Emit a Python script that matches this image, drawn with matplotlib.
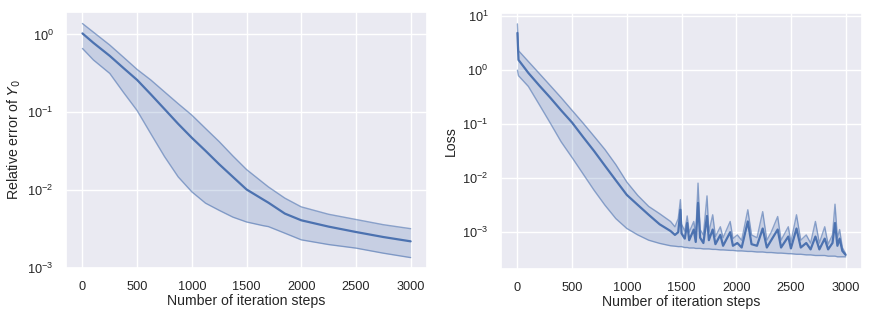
import numpy as np
import seaborn as sns
from matplotlib import pyplot as plt

# Relative error of Y_0 (left panel)
err_steps = [0, 100, 250, 375, 500, 625, 750, 875, 1000, 1125, 1250, 1375, 1500,
             1650, 1700, 1850, 2000, 2250, 2500, 2750, 3000]
err_mean = [1.03, 0.78, 0.53, 0.37, 0.26, 0.17, 0.11, 0.071, 0.047, 0.032, 0.0215, 0.0148, 0.0102,
            0.0076, 0.0069, 0.0050, 0.0041, 0.0034, 0.0029, 0.0025, 0.0022]
err_upper = [1.38, 1.07, 0.73, 0.51, 0.355, 0.26, 0.183, 0.129, 0.092, 0.062, 0.042, 0.0275, 0.0184,
             0.0125, 0.011, 0.0079, 0.0061, 0.0049, 0.0042, 0.0036, 0.0032]
err_lower = [0.66, 0.47, 0.315, 0.18, 0.105, 0.053, 0.027, 0.0148, 0.0095, 0.0068, 0.0055, 0.0045, 0.0039,
             0.0035, 0.0034, 0.0028, 0.0023, 0.0020, 0.0018, 0.00155, 0.00136]

# Loss (right panel)
loss_steps = [0, 10, 100, 200, 300, 400, 500, 600, 700, 800, 900, 1000, 1100, 1200, 1300, 1400,
              1440, 1470, 1490, 1500, 1530, 1552, 1570, 1612, 1630, 1651, 1670, 1700, 1733, 1750,
              1785, 1810, 1855, 1880, 1945, 1970, 2010, 2050, 2106, 2140, 2190, 2242, 2280, 2320,
              2379, 2410, 2476, 2500, 2551, 2590, 2640, 2680, 2724, 2760, 2809, 2840, 2880, 2903,
              2925, 2945, 2970, 3000]
loss_mean = [4.9, 1.55, 0.89, 0.52, 0.31, 0.18, 0.107, 0.058, 0.032, 0.017, 0.0091, 0.0049, 0.0032, 0.0021, 0.0014, 0.00105,
             8.9e-4, 1.0e-3, 2.6e-3, 9.5e-4, 7.6e-4, 1.48e-3, 7.1e-4, 1.12e-3, 6.6e-4, 3.5e-3, 7.9e-4, 6.3e-4, 2.0e-3, 7.1e-4,
             1.12e-3, 6.0e-4, 8.9e-4, 5.6e-4, 1.0e-3, 5.6e-4, 6.3e-4, 5.2e-4, 1.58e-3, 6.0e-4, 5.6e-4, 1.17e-3, 5.2e-4, 7.1e-4,
             1.12e-3, 5.2e-4, 8.3e-4, 5.0e-4, 1.17e-3, 5.2e-4, 6.3e-4, 4.8e-4, 8.3e-4, 4.8e-4, 7.6e-4, 4.8e-4, 6.3e-4, 1.48e-3,
             5.6e-4, 7.6e-4, 4.5e-4, 3.8e-4]
loss_upper = [7.2, 2.3, 1.45, 0.87, 0.52, 0.31, 0.18, 0.105, 0.060, 0.034, 0.0178, 0.0085, 0.0048, 0.0030, 0.0022, 0.00158,
              1.26e-3, 1.78e-3, 4.0e-3, 1.41e-3, 1.05e-3, 2.0e-3, 1.0e-3, 1.58e-3, 8.9e-4, 8.1e-3, 1.12e-3, 8.9e-4, 4.7e-3, 1.0e-3,
              2.1e-3, 8.3e-4, 1.26e-3, 7.9e-4, 1.58e-3, 7.6e-4, 8.9e-4, 7.1e-4, 2.6e-3, 8.9e-4, 7.9e-4, 2.4e-3, 7.1e-4, 1.0e-3,
              1.95e-3, 7.1e-4, 1.26e-3, 6.6e-4, 2.1e-3, 7.1e-4, 8.9e-4, 6.3e-4, 1.58e-3, 6.3e-4, 1.26e-3, 6.0e-4, 8.9e-4, 3.3e-3,
              7.9e-4, 1.12e-3, 5.2e-4, 4.0e-4]
loss_lower = [1.0, 0.79, 0.50, 0.23, 0.105, 0.047, 0.024, 0.012, 0.0060, 0.00316, 0.00178, 0.00117, 0.00089, 0.00071, 0.00062, 0.00056,
              5.5e-4, 5.4e-4, 5.4e-4, 5.4e-4, 5.2e-4, 5.2e-4, 5.1e-4, 5.1e-4, 5.0e-4, 5.0e-4, 5.0e-4, 4.9e-4, 4.9e-4, 4.9e-4,
              4.8e-4, 4.8e-4, 4.7e-4, 4.7e-4, 4.6e-4, 4.6e-4, 4.5e-4, 4.5e-4, 4.4e-4, 4.4e-4, 4.3e-4, 4.3e-4, 4.2e-4, 4.2e-4,
              4.1e-4, 4.1e-4, 4.0e-4, 4.0e-4, 3.9e-4, 3.9e-4, 3.8e-4, 3.8e-4, 3.7e-4, 3.7e-4, 3.7e-4, 3.6e-4, 3.6e-4, 3.6e-4,
              3.5e-4, 3.5e-4, 3.5e-4, 3.5e-4]

COLOR = '#4C72B0'

sns.set_theme(style='darkgrid')
plt.rcParams['font.family'] = ['Liberation Sans', 'DejaVu Sans']

fig = plt.figure(figsize=(8.71, 3.2), dpi=100)
ax1 = fig.add_axes([0.0758, 0.1625, 0.4145, 0.8])
ax2 = fig.add_axes([0.5752, 0.159, 0.4145, 0.8])


def draw_band(ax, x, mean, lower, upper):
    ax.fill_between(x, lower, upper, color=COLOR, alpha=0.22, linewidth=0)
    ax.plot(x, upper, color=COLOR, alpha=0.6, linewidth=1.0)
    ax.plot(x, lower, color=COLOR, alpha=0.6, linewidth=1.0)
    ax.plot(x, mean, color=COLOR, linewidth=1.6)
    ax.set_yscale('log')
    ax.set_xticks([0, 500, 1000, 1500, 2000, 2500, 3000])
    ax.set_xlim(-150, 3150)
    ax.tick_params(labelsize=9.2, pad=3)
    ax.set_xlabel('Number of iteration steps', fontsize=10.2, labelpad=1)


draw_band(ax1, err_steps, err_mean, err_lower, err_upper)
ax1.set_ylim(1e-3, 1.94)
ax1.set_ylabel('Relative error of $Y_0$', fontsize=10.2, labelpad=3)

draw_band(ax2, loss_steps, loss_mean, loss_lower, loss_upper)
ax2.set_ylim(2.07e-4, 11.4)
ax2.set_ylabel('Loss', fontsize=10.2, labelpad=3)

fig.savefig('out.png', dpi=100)
